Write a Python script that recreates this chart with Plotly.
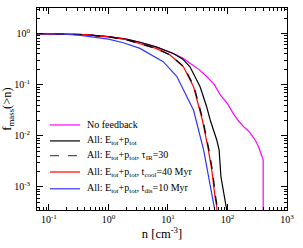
import plotly.graph_objects as go

# values, stored as log10(n) and log10(f_mass)
common_logn = [-1.2, -0.8, -0.4, 0.0, 0.3, 0.53, 0.8, 1.09]
black_common_logf = [0.0, -0.005, -0.02, -0.06, -0.11, -0.17, -0.26, -0.39]

black_logn = common_logn + [1.25, 1.37, 1.54, 1.65, 1.71, 1.82, 1.86, 1.89, 1.99, 2.01]
black_logf = black_common_logf + [-0.50, -0.65, -1.04, -1.43, -1.69, -2.08, -2.28, -2.80, -3.39, -3.6]

nofb_logn = common_logn + [1.25, 1.37, 1.52, 1.65, 1.78, 1.88, 2.0, 2.1, 2.18, 2.27, 2.35, 2.41, 2.47, 2.52, 2.60, 2.60]
nofb_logf = black_common_logf + [-0.48, -0.58, -0.70, -0.84, -1.00, -1.20, -1.37, -1.57, -1.70, -1.82, -1.90, -1.99, -2.09, -2.21, -2.47, -4.0]

red_logn = [-1.2, -0.8, -0.4, 0.0, 0.3, 0.53, 0.8, 1.035, 1.26, 1.43, 1.50, 1.58, 1.68, 1.74, 1.79, 1.82, 1.83]
red_logf = [0.0, -0.005, -0.02, -0.065, -0.12, -0.20, -0.29, -0.42, -0.65, -1.04, -1.35, -1.70, -2.28, -2.70, -3.19, -3.39, -3.6]

dash_logn = [-1.2, -0.8, -0.4, 0.0, 0.3, 0.53, 0.8, 1.04, 1.27, 1.44, 1.51, 1.59, 1.69, 1.75, 1.80, 1.83, 1.84]
dash_logf = [0.0, -0.005, -0.02, -0.065, -0.12, -0.20, -0.29, -0.42, -0.65, -1.04, -1.35, -1.70, -2.28, -2.70, -3.19, -3.39, -3.6]

blue_logn = [-1.2, -0.8, -0.5, -0.2, 0.0, 0.25, 0.53, 0.92, 1.15, 1.32, 1.43, 1.60, 1.74, 1.79, 1.81]
blue_logf = [0.0, -0.008, -0.03, -0.07, -0.11, -0.18, -0.29, -0.55, -0.84, -1.24, -1.50, -2.28, -3.13, -3.39, -3.6]

legend_labels = [
    "No feedback",
    "All: E<sub>tot</sub>+p<sub>tot</sub>",
    "All: E<sub>tot</sub>+p<sub>tot</sub>, τ<sub>IR</sub>=30",
    "All: E<sub>tot</sub>+p<sub>tot</sub>, t<sub>cool</sub>=40 Myr",
    "All: E<sub>tot</sub>+p<sub>tot</sub>, t<sub>dis</sub>=10 Myr",
]
legend_colors = ["#ff00ff", "#000000", "#555555", "#ff0000", "#3333ff"]
legend_dash = ["solid", "solid", "dash", "solid", "solid"]

x_tickvals = [0.1, 1, 10, 100, 1000]
x_ticktext = ["10<sup>-1</sup>", "10<sup>0</sup>", "10<sup>1</sup>", "10<sup>2</sup>", "10<sup>3</sup>"]
y_tickvals = [0.001, 0.01, 0.1, 1]
y_ticktext = ["10<sup>-3</sup>", "10<sup>-2</sup>", "10<sup>-1</sup>", "10<sup>0</sup>"]

def lin(v):
    return [10 ** a for a in v]

FONT = "Liberation Serif"
fig = go.Figure()
series = [
    (nofb_logn, nofb_logf, "#ff00ff", "solid"),
    (black_logn, black_logf, "#000000", "solid"),
    (red_logn, red_logf, "#ff0000", "solid"),
    (dash_logn, dash_logf, "#000000", "dash"),
    (blue_logn, blue_logf, "#3333ff", "solid"),
]
for xs, ys, c, d in series:
    fig.add_trace(go.Scatter(x=lin(xs), y=lin(ys), mode="lines",
                             line=dict(color=c, width=1.2, dash=d), showlegend=False))

minor_x = [m * 10 ** e for e in range(-2, 3) for m in range(2, 10)]
minor_y = [m * 10 ** e for e in range(-4, 1) for m in range(2, 10)]

axis_common = dict(type="log", showgrid=False, zeroline=False, showline=True, linecolor="black",
                   linewidth=1, mirror="allticks", ticks="inside", ticklen=6, tickwidth=1,
                   tickcolor="black", automargin=False,
                   tickfont=dict(family=FONT, size=10, color="black"))
fig.update_xaxes(range=[-1.2, 3], tickvals=x_tickvals, ticktext=x_ticktext,
                 minor=dict(tickvals=minor_x, ticks="inside", ticklen=3, tickcolor="black", showgrid=False),
                 title=dict(text="n [cm<sup>-3</sup>]", font=dict(family=FONT, size=12.5, color="black"), standoff=3),
                 **axis_common)
fig.update_yaxes(range=[-3.45, 0.5], tickvals=y_tickvals, ticktext=y_ticktext, ticklabelstandoff=4,
                 minor=dict(tickvals=minor_y, ticks="inside", ticklen=3, tickcolor="black", showgrid=False),
                 title=dict(text="f<sub>mass</sub>(>n)", font=dict(family=FONT, size=12.5, color="black"), standoff=1),
                 **axis_common)

legend_y = [0.421, 0.342, 0.269, 0.188, 0.105]
for lab, c, d, yy in zip(legend_labels, legend_colors, legend_dash, legend_y):
    fig.add_shape(type="line", xref="paper", yref="paper", x0=0.052, x1=0.172, y0=yy, y1=yy,
                  line=dict(color=c, width=1.2, dash=d))
    fig.add_annotation(xref="paper", yref="paper", x=0.19, y=yy, text=lab, showarrow=False,
                       xanchor="left", yanchor="middle", font=dict(family=FONT, size=10, color="black"))

fig.update_layout(width=303, height=248, margin=dict(l=37, r=16, t=8, b=38, pad=0),
                  paper_bgcolor="white", plot_bgcolor="white", showlegend=False,
                  font=dict(family=FONT, size=10, color="black"))
fig.write_html("out.html", config={"displayModeBar": False},
               post_script="document.body.style.margin='0';")
